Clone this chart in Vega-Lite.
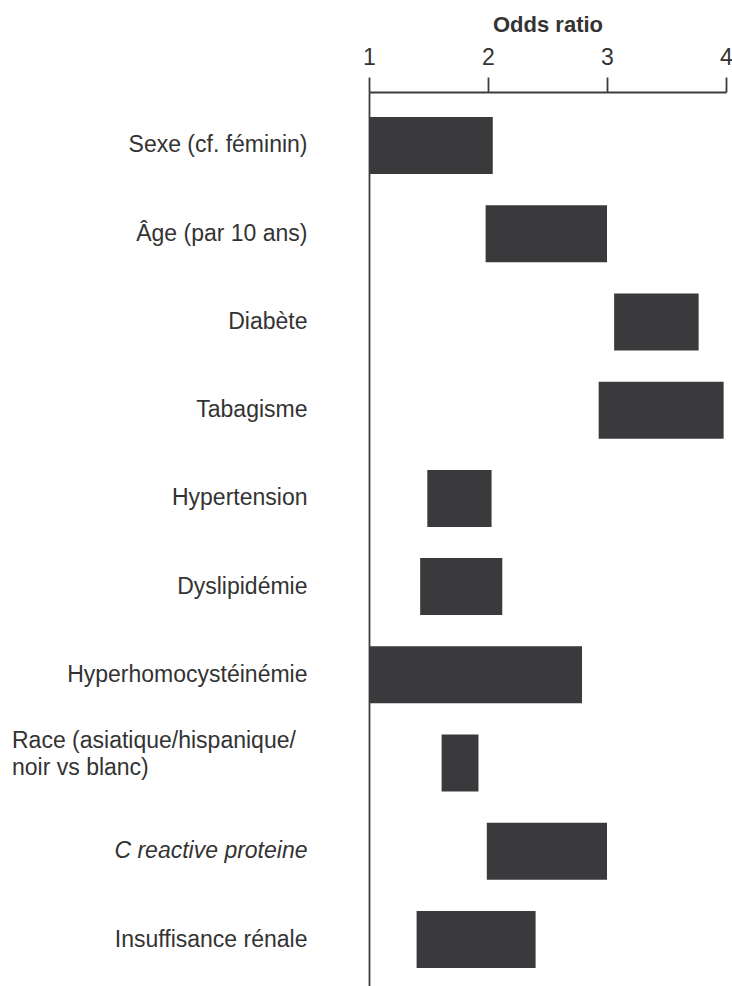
{
  "$schema": "https://vega.github.io/schema/vega-lite/v6.json",
  "autosize": {"type": "none"},
  "padding": {"left": 369, "top": 92, "right": 6, "bottom": 0},
  "width": 357,
  "height": 901,
  "config": {"view": {"stroke": null}, "font": "Liberation Sans"},
  "data": {
    "values": [
      {"factor": "Sexe (cf. féminin)", "lo": 1.0, "hi": 2.04},
      {"factor": "Âge (par 10 ans)", "lo": 1.98, "hi": 3.0},
      {"factor": "Diabète", "lo": 3.06, "hi": 3.77},
      {"factor": "Tabagisme", "lo": 2.93, "hi": 3.98},
      {"factor": "Hypertension", "lo": 1.49, "hi": 2.03},
      {"factor": "Dyslipidémie", "lo": 1.43, "hi": 2.12},
      {"factor": "Hyperhomocystéinémie", "lo": 1.0, "hi": 2.79},
      {"factor": "Race (asiatique/hispanique/noir vs blanc)", "lo": 1.61, "hi": 1.92},
      {"factor": "C reactive proteine", "lo": 1.99, "hi": 3.0},
      {"factor": "Insuffisance rénale", "lo": 1.4, "hi": 2.4}
    ]
  },
  "encoding": {
    "y": {
      "field": "factor",
      "type": "nominal",
      "sort": null,
      "scale": {"paddingInner": 0.354, "paddingOuter": 0.283},
      "axis": {
        "title": null,
        "ticks": false,
        "tickSize": 0,
        "domain": true,
        "domainColor": "#3d3d3d",
        "domainWidth": 1.8,
        "grid": false,
        "labelPadding": 62,
        "labelFontSize": 23,
        "labelColor": "#333333",
        "labelLimit": 0,
        "labelFont": "Liberation Sans",
        "labelExpr": "datum.value == 'Race (asiatique/hispanique/noir vs blanc)' ? '' : datum.label",
        "labelFontStyle": {"expr": "datum.value == 'C reactive proteine' ? 'italic' : 'normal'"}
      }
    }
  },
  "layer": [
    {
      "mark": {"type": "bar", "color": "#3a3a3c"},
      "encoding": {
        "x": {
          "field": "lo",
          "type": "quantitative",
          "scale": {"domain": [1, 4], "nice": false, "zero": false},
          "axis": {
            "orient": "top",
            "title": "Odds ratio",
            "titleFontSize": 22,
            "titleFontWeight": "bold",
            "titleColor": "#333333",
            "titlePadding": 10,
            "values": [1, 2, 3, 4],
            "format": "d",
            "tickSize": 15,
            "tickWidth": 1.8,
            "tickColor": "#3d3d3d",
            "domainColor": "#3d3d3d",
            "domainWidth": 1.8,
            "labelFontSize": 23,
            "labelColor": "#333333",
            "labelPadding": 8,
            "labelFlush": false,
            "grid": false
          }
        },
        "x2": {"field": "hi"}
      }
    },
    {
      "transform": [{"filter": "datum.factor == 'Race (asiatique/hispanique/noir vs blanc)'"}],
      "mark": {
        "type": "text",
        "align": "left",
        "baseline": "alphabetic",
        "dx": -357,
        "dy": -15,
        "fontSize": 23,
        "lineHeight": 27,
        "color": "#333333",
        "font": "Liberation Sans"
      },
      "encoding": {
        "x": {"datum": 1},
        "text": {"value": ["Race (asiatique/hispanique/", "noir vs blanc)"]}
      }
    }
  ]
}
